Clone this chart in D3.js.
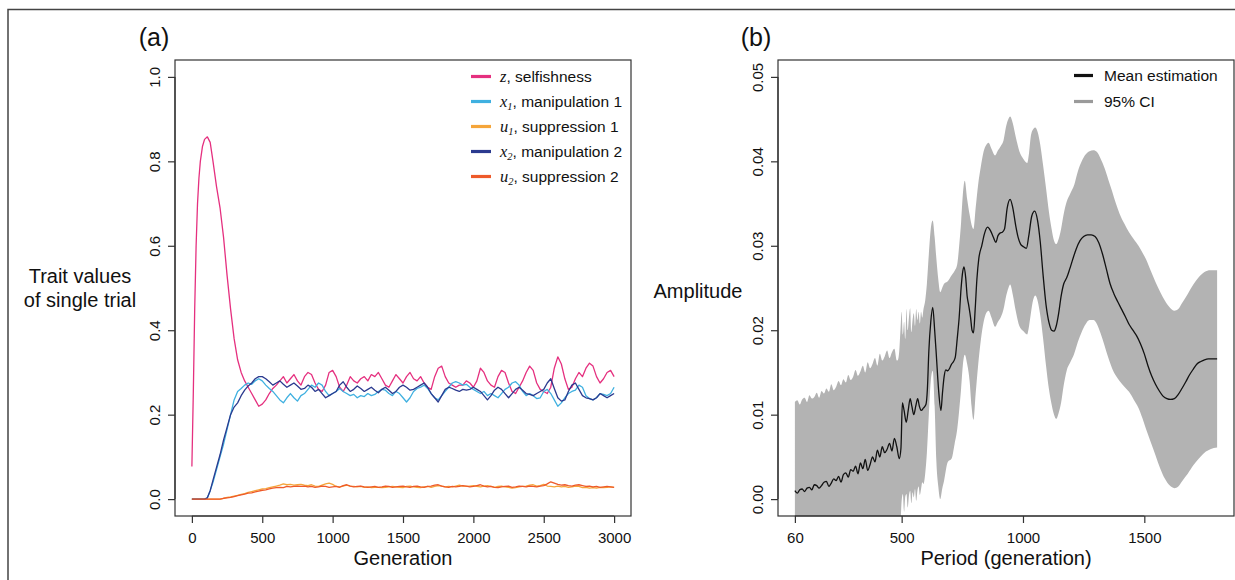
<!DOCTYPE html>
<html>
<head>
<meta charset="utf-8">
<script src="https://cdn.jsdelivr.net/npm/d3@7"></script>
<style>
  html, body { margin: 0; padding: 0; background: #ffffff; }
  svg { display: block; }
  text { font-family: "Liberation Sans", Arial, Helvetica, sans-serif; fill: #111; }
</style>
</head>
<body>
<svg id="chart" width="1235" height="580"></svg>
<script>
// ---------------- Panel (a) data ----------------
const generations = [0,10,20,30,40,50,60,75,90,110,130,150,175,200,225,250,275,300,325,350,375,400,425,450,475,500,
 525,550,575,600,625,650,675,700,725,750,775,800,825,850,875,900,925,950,975,1000,
 1025,1050,1075,1100,1125,1150,1175,1200,1225,1250,1275,1300,1325,1350,1375,1400,1425,1450,1475,1500,
 1525,1550,1575,1600,1625,1650,1675,1700,1725,1750,1775,1800,1825,1850,1875,1900,1925,1950,1975,2000,
 2025,2050,2075,2100,2125,2150,2175,2200,2225,2250,2275,2300,2325,2350,2375,2400,2425,2450,2475,2500,
 2525,2550,2575,2600,2625,2650,2675,2700,2725,2750,2775,2800,2825,2850,2875,2900,2925,2950,2975,3000];

const zSelfishness = [0.077,0.25,0.45,0.60,0.70,0.76,0.80,0.835,0.852,0.858,0.845,0.80,0.74,0.69,0.62,0.53,0.45,0.38,0.33,0.30,0.28,0.265,0.25,0.235,0.22,0.225,
 0.235,0.25,0.262,0.27,0.28,0.29,0.275,0.285,0.295,0.28,0.27,0.29,0.30,0.295,0.275,0.26,0.255,0.27,0.30,0.305,
 0.29,0.265,0.255,0.27,0.29,0.28,0.275,0.285,0.29,0.28,0.295,0.29,0.30,0.285,0.27,0.265,0.28,0.295,0.285,0.275,
 0.29,0.30,0.285,0.28,0.29,0.275,0.265,0.26,0.29,0.31,0.315,0.29,0.275,0.27,0.265,0.27,0.27,0.28,0.275,0.265,
 0.28,0.31,0.30,0.28,0.27,0.265,0.29,0.305,0.30,0.275,0.255,0.25,0.265,0.28,0.30,0.315,0.305,0.275,0.26,0.255,
 0.25,0.265,0.31,0.337,0.32,0.285,0.26,0.265,0.285,0.30,0.29,0.31,0.322,0.315,0.29,0.275,0.285,0.30,0.305,0.29];

const x1Manipulation = [0,0,0,0,0,0,0,0,0,0.003,0.02,0.04,0.07,0.10,0.13,0.165,0.20,0.235,0.255,0.262,0.27,0.275,0.272,0.28,0.285,0.28,
 0.27,0.262,0.255,0.245,0.235,0.228,0.24,0.25,0.24,0.232,0.245,0.25,0.26,0.27,0.265,0.275,0.27,0.255,0.245,0.25,
 0.255,0.262,0.255,0.25,0.245,0.248,0.24,0.245,0.243,0.25,0.245,0.248,0.255,0.26,0.258,0.25,0.245,0.255,0.25,0.24,
 0.23,0.24,0.255,0.262,0.265,0.27,0.262,0.25,0.24,0.235,0.245,0.255,0.265,0.275,0.278,0.275,0.27,0.272,0.265,0.26,
 0.255,0.25,0.255,0.245,0.25,0.245,0.24,0.25,0.26,0.265,0.275,0.278,0.27,0.255,0.245,0.25,0.245,0.238,0.24,0.255,
 0.26,0.25,0.235,0.22,0.228,0.24,0.25,0.255,0.258,0.27,0.265,0.245,0.238,0.235,0.24,0.25,0.248,0.245,0.25,0.265];

const u1Suppression = [0,0,0,0,0,0,0,0,0,0,0,0,0,0,0.002,0.004,0.005,0.007,0.009,0.011,0.013,0.016,0.018,0.020,0.022,0.024,
 0.025,0.027,0.029,0.031,0.033,0.036,0.034,0.035,0.033,0.034,0.035,0.033,0.032,0.034,0.031,0.030,0.033,0.036,0.038,0.035,
 0.030,0.029,0.031,0.033,0.031,0.030,0.029,0.030,0.028,0.029,0.027,0.028,0.028,0.027,0.028,0.029,0.030,0.029,0.028,0.027,
 0.030,0.031,0.029,0.028,0.027,0.029,0.030,0.028,0.030,0.032,0.031,0.029,0.030,0.029,0.031,0.033,0.031,0.030,0.031,0.032,
 0.030,0.029,0.031,0.032,0.030,0.028,0.030,0.031,0.029,0.028,0.026,0.027,0.029,0.030,0.031,0.033,0.034,0.031,0.032,0.035,
 0.031,0.030,0.029,0.031,0.029,0.030,0.028,0.029,0.031,0.030,0.027,0.028,0.026,0.027,0.026,0.028,0.027,0.028,0.029,0.028];

const x2Manipulation = [0,0,0,0,0,0,0,0,0,0.003,0.02,0.045,0.075,0.105,0.14,0.17,0.20,0.218,0.228,0.245,0.258,0.268,0.275,0.285,0.29,0.29,
 0.285,0.278,0.27,0.275,0.28,0.272,0.265,0.27,0.275,0.268,0.26,0.262,0.27,0.265,0.255,0.26,0.25,0.24,0.245,0.25,
 0.255,0.27,0.278,0.265,0.255,0.26,0.268,0.262,0.255,0.26,0.265,0.258,0.252,0.26,0.265,0.258,0.25,0.255,0.265,0.27,
 0.265,0.258,0.26,0.265,0.27,0.275,0.265,0.25,0.24,0.23,0.245,0.26,0.265,0.262,0.258,0.255,0.26,0.258,0.26,0.265,
 0.26,0.255,0.245,0.235,0.245,0.258,0.265,0.26,0.25,0.24,0.25,0.26,0.265,0.258,0.25,0.248,0.245,0.25,0.255,0.26,
 0.275,0.285,0.262,0.24,0.232,0.235,0.255,0.27,0.275,0.26,0.245,0.24,0.238,0.235,0.24,0.25,0.245,0.24,0.245,0.25];

const u2Suppression = [0,0,0,0,0,0,0,0,0,0,0,0,0,0,0.002,0.003,0.004,0.006,0.008,0.010,0.012,0.014,0.015,0.017,0.019,0.021,
 0.022,0.024,0.026,0.027,0.028,0.027,0.030,0.029,0.030,0.031,0.030,0.031,0.029,0.030,0.028,0.029,0.031,0.030,0.028,0.029,
 0.030,0.028,0.032,0.034,0.031,0.029,0.030,0.031,0.029,0.028,0.029,0.030,0.028,0.029,0.031,0.030,0.028,0.029,0.030,0.031,
 0.029,0.028,0.030,0.031,0.029,0.028,0.030,0.031,0.033,0.034,0.031,0.029,0.028,0.030,0.029,0.030,0.032,0.031,0.029,0.030,
 0.032,0.034,0.031,0.029,0.030,0.028,0.027,0.029,0.030,0.031,0.028,0.029,0.031,0.030,0.029,0.031,0.030,0.029,0.031,0.032,
 0.036,0.041,0.038,0.035,0.033,0.034,0.032,0.031,0.033,0.034,0.032,0.030,0.031,0.029,0.030,0.028,0.029,0.030,0.029,0.028];

const traitNames = ["z", "x", "u", "x", "u"];
const traitSubs = ["", "1", "1", "2", "2"];
const traitLabels = [", selfishness", ", manipulation 1", ", suppression 1", ", manipulation 2", ", suppression 2"];
const traitColors = ["#e5307f", "#3fb0e0", "#f5a53a", "#2b3a8f", "#ee5a2a"];

const genTicks = [0, 500, 1000, 1500, 2000, 2500, 3000];
const traitTicks = [0, 0.2, 0.4, 0.6, 0.8, 1.0];

// ---------------- Panel (b) data ----------------
const meanPeriod = [60,70,80,90,100,110,120,130,140,150,160,170,180,190,200,210,220,230,240,250,260,270,280,290,300,310,320,330,340,350,360,370,380,390,400,410,420,430,440,450,460,470,480,
 490,497,503,510,519,527,535,542,550,558,566,573,581,590,600,606,612,620,628,636,643,652,662,668,675,682,690,698,706,714,721,729,737,745,752,757,764,770,776,784,790,796,803,810,818,830,842,854,866,878,888,897,905,915,924,935,947,958,970,980,990,1001,1014,1024,1036,1048,1060,1071,1083,1095,1108,1118,1128,1137,1147,1157,1168,1180,1192,1204,1219,1235,1250,1266,1281,1297,1312,1328,1344,1359,1375,1390,1406,1422,1437,1453,1469,1484,1500,1515,1530,1546,1562,1577,1593,1608,1624,1640,1655,1671,1686,1702,1717,1733,1748,1764,1780,1800];
const meanAmplitude = [0.0010,0.0007,0.0011,0.0012,0.0009,0.0013,0.0014,0.0011,0.0017,0.0016,0.0013,0.0016,0.0020,0.0021,0.0015,0.0019,0.0024,0.0022,0.0027,0.0020,0.0029,0.0031,0.0026,0.0035,0.0033,0.0039,0.0030,0.0043,0.0036,0.0047,0.0034,0.0041,0.0050,0.0044,0.0058,0.0050,0.0062,0.0055,0.0059,0.0066,0.0057,0.0072,0.0062,
 0.0048,0.0060,0.0114,0.0105,0.0091,0.0105,0.0119,0.0110,0.0100,0.0110,0.0119,0.0110,0.0105,0.0108,0.0112,0.0130,0.0175,0.0210,0.0227,0.0200,0.0170,0.0130,0.0105,0.0125,0.0145,0.0153,0.0152,0.0155,0.0160,0.0163,0.0168,0.0190,0.0215,0.0250,0.0270,0.0275,0.0262,0.0240,0.0230,0.0215,0.0200,0.0197,0.0225,0.0260,0.0285,0.0300,0.0315,0.0322,0.0318,0.0310,0.0304,0.0312,0.0315,0.0316,0.0320,0.0345,0.0355,0.0345,0.0324,0.0310,0.0302,0.0299,0.0297,0.0312,0.0335,0.0341,0.0330,0.0305,0.0265,0.0230,0.0208,0.0200,0.0199,0.0205,0.0220,0.0240,0.0255,0.0262,0.0272,0.0283,0.0296,0.0306,0.0311,0.0313,0.0313,0.0311,0.0304,0.0290,0.0272,0.0255,0.0243,0.0234,0.0225,0.0216,0.0207,0.0200,0.0193,0.0184,0.0172,0.0158,0.0146,0.0136,0.0128,0.0122,0.0119,0.0118,0.0119,0.0124,0.0131,0.0139,0.0147,0.0154,0.0160,0.0163,0.0165,0.0166,0.0166,0.0166];

const ciPeriod = [60,70,80,90,100,110,120,130,140,150,160,170,180,190,200,210,220,230,240,250,260,270,280,290,300,310,320,330,340,350,360,370,380,390,400,410,420,430,440,450,460,470,480,
 485,490,495,500,505,510,515,520,525,530,535,540,545,550,555,560,565,570,575,580,585,590,597,604,612,620,628,636,643,651,659,667,675,690,706,718,729,737,745,752,760,770,780,788,796,805,815,827,838,848,858,870,885,897,908,920,931,940,947,958,970,985,1001,1017,1025,1032,1042,1051,1061,1071,1083,1095,1107,1118,1128,1137,1147,1157,1168,1180,1195,1211,1226,1242,1258,1274,1290,1305,1320,1336,1352,1367,1383,1398,1418,1437,1456,1476,1492,1507,1527,1546,1566,1585,1605,1624,1640,1655,1679,1702,1725,1748,1772,1800];
const ciUpper = [0.0115,0.0117,0.0112,0.0118,0.0120,0.0115,0.0123,0.0119,0.0121,0.0126,0.0120,0.0128,0.0125,0.0131,0.0127,0.0136,0.0129,0.0133,0.0140,0.0135,0.0142,0.0138,0.0147,0.0141,0.0145,0.0153,0.0146,0.0151,0.0158,0.0150,0.0162,0.0155,0.0160,0.0167,0.0158,0.0172,0.0164,0.0169,0.0176,0.0167,0.0174,0.0178,0.0164,
 0.0165,0.0175,0.0200,0.0222,0.0195,0.0210,0.0190,0.0225,0.0200,0.0215,0.0226,0.0198,0.0212,0.0220,0.0205,0.0225,0.0212,0.0222,0.0208,0.0222,0.0215,0.0225,0.0235,0.0255,0.0290,0.0320,0.0330,0.0310,0.0285,0.0260,0.0245,0.0250,0.0255,0.0258,0.0265,0.0270,0.0278,0.0300,0.0328,0.0360,0.0377,0.0355,0.0337,0.0325,0.0320,0.0345,0.0372,0.0395,0.0412,0.0419,0.0422,0.0415,0.0407,0.0413,0.0418,0.0425,0.0442,0.0450,0.0453,0.0445,0.0429,0.0412,0.0403,0.0398,0.0410,0.0429,0.0438,0.0440,0.0434,0.0420,0.0395,0.0368,0.0340,0.0320,0.0306,0.0302,0.0308,0.0320,0.0338,0.0352,0.0362,0.0372,0.0388,0.0400,0.0408,0.0412,0.0413,0.0411,0.0403,0.0392,0.0378,0.0365,0.0350,0.0338,0.0326,0.0316,0.0308,0.0300,0.0292,0.0284,0.0270,0.0257,0.0245,0.0235,0.0227,0.0223,0.0225,0.0232,0.0243,0.0254,0.0263,0.0269,0.0271,0.0271];
const ciLower = [-0.005,-0.005,-0.005,-0.005,-0.005,-0.005,-0.005,-0.005,-0.005,-0.005,-0.005,-0.005,-0.005,-0.005,-0.005,-0.005,-0.005,-0.005,-0.005,-0.005,-0.005,-0.005,-0.005,-0.005,-0.005,-0.005,-0.005,-0.005,-0.005,-0.005,-0.005,-0.005,-0.005,-0.005,-0.005,-0.005,-0.005,-0.005,-0.005,-0.005,-0.005,-0.005,-0.005,
 -0.005,-0.005,-0.003,-0.0002,0.0006,-0.0015,0.0003,0.0006,-0.0010,0.0004,0.0010,-0.0005,0.0008,0.0002,0.0012,-0.0002,0.0010,0.0015,0.0005,0.0012,0.0020,0.0018,0.0030,0.0055,0.0100,0.0140,0.0152,0.0110,0.0045,0.0015,0.0000,0.0012,0.0022,0.0044,0.0048,0.0065,0.0083,0.0105,0.0131,0.0158,0.0171,0.0160,0.0140,0.0110,0.0094,0.0125,0.0158,0.0190,0.0210,0.0220,0.0223,0.0215,0.0204,0.0210,0.0215,0.0225,0.0241,0.0250,0.0254,0.0242,0.0223,0.0205,0.0199,0.0195,0.0205,0.0219,0.0236,0.0241,0.0234,0.0218,0.0190,0.0158,0.0130,0.0112,0.0100,0.0095,0.0102,0.0114,0.0135,0.0152,0.0162,0.0172,0.0186,0.0198,0.0207,0.0212,0.0212,0.0207,0.0196,0.0182,0.0167,0.0155,0.0146,0.0140,0.0133,0.0127,0.0118,0.0108,0.0096,0.0083,0.0067,0.0052,0.0036,0.0024,0.0016,0.0013,0.0015,0.0021,0.0030,0.0040,0.0048,0.0055,0.0059,0.0061];

const periodTicks = [60, 500, 1000, 1500];
const ampTicks = [0, 0.01, 0.02, 0.03, 0.04, 0.05];
const ampLegend = ["Mean estimation", "95% CI"];
const ampLegendColors = ["#111111", "#9a9a9a"];

// ---------------- Drawing ----------------
const svg = d3.select("#chart");
svg.append("rect").attr("width", 1235).attr("height", 580).attr("fill", "#fff");

// outer frame (top & left)
svg.append("path").attr("d", "M8,580 V9.5 H1235").attr("fill", "none")
  .attr("stroke", "#444").attr("stroke-width", 1.5);

const boxTop = 60, boxBottom = 516;
const FONT_TICK = 15, FONT_LAB = 20;

function drawAxes(g, x, y, xTicks, yTicks, yFmt, left, right) {
  g.append("rect").attr("x", left).attr("y", boxTop).attr("width", right - left).attr("height", boxBottom - boxTop)
    .attr("fill", "none").attr("stroke", "#333").attr("stroke-width", 1.2);
  const xa = g.append("g").attr("transform", `translate(0,${boxBottom})`)
    .call(d3.axisBottom(x).tickValues(xTicks).tickSize(7).tickSizeOuter(0).tickFormat(d3.format("d")));
  xa.select(".domain").remove();
  xa.append("line").attr("x1", x(xTicks[0])).attr("x2", x(xTicks[xTicks.length - 1]))
    .attr("stroke", "#333").attr("stroke-width", 1.2);
  xa.selectAll(".tick line").attr("stroke", "#333").attr("stroke-width", 1.2);
  xa.selectAll(".tick text").attr("y", 27.3).attr("dy", null)
    .style("font-size", FONT_TICK + "px").style("font-family", '"Liberation Sans", Arial, sans-serif').attr("fill", "#111");
  const ya = g.append("g").attr("transform", `translate(${left},0)`)
    .call(d3.axisLeft(y).tickValues(yTicks).tickSize(7).tickSizeOuter(0).tickFormat(yFmt));
  ya.select(".domain").remove();
  ya.append("line").attr("y1", y(yTicks[0])).attr("y2", y(yTicks[yTicks.length - 1]))
    .attr("stroke", "#333").attr("stroke-width", 1.2);
  ya.selectAll(".tick line").attr("stroke", "#333").attr("stroke-width", 1.2);
  ya.selectAll(".tick text").attr("x", null).attr("dy", null)
    .attr("transform", "translate(-15.5,0) rotate(-90)").attr("text-anchor", "middle")
    .style("font-size", FONT_TICK + "px").style("font-family", '"Liberation Sans", Arial, sans-serif').attr("fill", "#111");
}

// ---------- Panel (a) ----------
const aLeft = 175, aRight = 631;
const xA = d3.scaleLinear().domain([-120, 3120]).range([aLeft, aRight]);
const yA = d3.scaleLinear().domain([-0.04, 1.04]).range([boxBottom, boxTop]);
const gA = svg.append("g");

svg.append("defs").append("clipPath").attr("id", "clipA").append("rect")
  .attr("x", aLeft).attr("y", boxTop).attr("width", aRight - aLeft).attr("height", boxBottom - boxTop);

const traitSeries = [zSelfishness, x1Manipulation, u1Suppression, x2Manipulation, u2Suppression];
const lineA = d3.line().x(d => xA(d[0])).y(d => yA(d[1]));
traitSeries.forEach((vals, k) => {
  const n = Math.min(vals.length, generations.length);
  const pts = d3.range(n).map(i => [generations[i], vals[i]]);
  gA.append("path").datum(pts).attr("d", lineA).attr("fill", "none")
    .attr("stroke", traitColors[k]).attr("stroke-width", 1.3).attr("stroke-linejoin", "round")
    .attr("clip-path", "url(#clipA)");
});

drawAxes(gA, xA, yA, genTicks, traitTicks, d3.format(".1f"), aLeft, aRight);

const legA = gA.append("g");
traitLabels.forEach((lab, k) => {
  const yy = 76.5 + k * 25;
  legA.append("line").attr("x1", 471).attr("x2", 491).attr("y1", yy).attr("y2", yy)
    .attr("stroke", traitColors[k]).attr("stroke-width", 3.2);
  const t = legA.append("text").attr("x", 500).attr("y", yy + 5.3).style("font-size", "15.5px");
  t.append("tspan").text(traitNames[k]).style("font-family", '"Liberation Serif", "Times New Roman", serif')
    .style("font-style", "italic").style("font-size", "16.5px");
  if (traitSubs[k]) {
    t.append("tspan").text(traitSubs[k]).attr("dy", 3.5)
      .style("font-family", '"Liberation Serif", "Times New Roman", serif').style("font-style", "italic").style("font-size", "10.5px");
    t.append("tspan").text(lab).attr("dy", -3.5);
  } else {
    t.append("tspan").text(lab);
  }
});

gA.append("text").attr("x", 154).attr("y", 46).attr("text-anchor", "middle").style("font-size", "25px").text("(a)");
gA.append("text").attr("x", 403).attr("y", 565).attr("text-anchor", "middle").style("font-size", FONT_LAB + "px").text("Generation");
gA.append("text").attr("x", 80).attr("y", 283).attr("text-anchor", "middle").style("font-size", FONT_LAB + "px").text("Trait values");
gA.append("text").attr("x", 80).attr("y", 307).attr("text-anchor", "middle").style("font-size", FONT_LAB + "px").text("of single trial");

// ---------- Panel (b) ----------
const bLeft = 778, bRight = 1234;
const xB = d3.scaleLinear().domain([-9.6, 1869.6]).range([bLeft, bRight]);
const yB = d3.scaleLinear().domain([-0.002, 0.052]).range([boxBottom, boxTop]);
const gB = svg.append("g");

svg.select("defs").append("clipPath").attr("id", "clipB").append("rect")
  .attr("x", bLeft).attr("y", boxTop).attr("width", bRight - bLeft).attr("height", boxBottom - boxTop);

const ciData = d3.range(Math.min(ciPeriod.length, ciUpper.length, ciLower.length))
  .map(i => ({p: ciPeriod[i], lo: ciLower[i], hi: ciUpper[i]}));
gB.append("path").datum(ciData)
  .attr("d", d3.area().x(d => xB(d.p)).y0(d => yB(d.lo)).y1(d => yB(d.hi)).curve(d3.curveMonotoneX))
  .attr("fill", "#b3b3b3").attr("stroke", "none").attr("clip-path", "url(#clipB)");

const meanData = d3.range(Math.min(meanPeriod.length, meanAmplitude.length)).map(i => [meanPeriod[i], meanAmplitude[i]]);
gB.append("path").datum(meanData)
  .attr("d", d3.line().x(d => xB(d[0])).y(d => yB(d[1])).curve(d3.curveMonotoneX))
  .attr("fill", "none").attr("stroke", "#111").attr("stroke-width", 1.3).attr("clip-path", "url(#clipB)");

drawAxes(gB, xB, yB, periodTicks, ampTicks, d3.format(".2f"), bLeft, bRight);

ampLegend.forEach((lab, k) => {
  const yy = 75.5 + k * 26;
  gB.append("line").attr("x1", 1074).attr("x2", 1093).attr("y1", yy).attr("y2", yy)
    .attr("stroke", ampLegendColors[k]).attr("stroke-width", 3.2);
  gB.append("text").attr("x", 1104).attr("y", yy + 5.3).style("font-size", "15.5px").text(lab);
});

gB.append("text").attr("x", 756).attr("y", 46).attr("text-anchor", "middle").style("font-size", "25px").text("(b)");
gB.append("text").attr("x", 1006).attr("y", 565).attr("text-anchor", "middle").style("font-size", FONT_LAB + "px").text("Period (generation)");
gB.append("text").attr("x", 698).attr("y", 298).attr("text-anchor", "middle").style("font-size", FONT_LAB + "px").text("Amplitude");
</script>
</body>
</html>
